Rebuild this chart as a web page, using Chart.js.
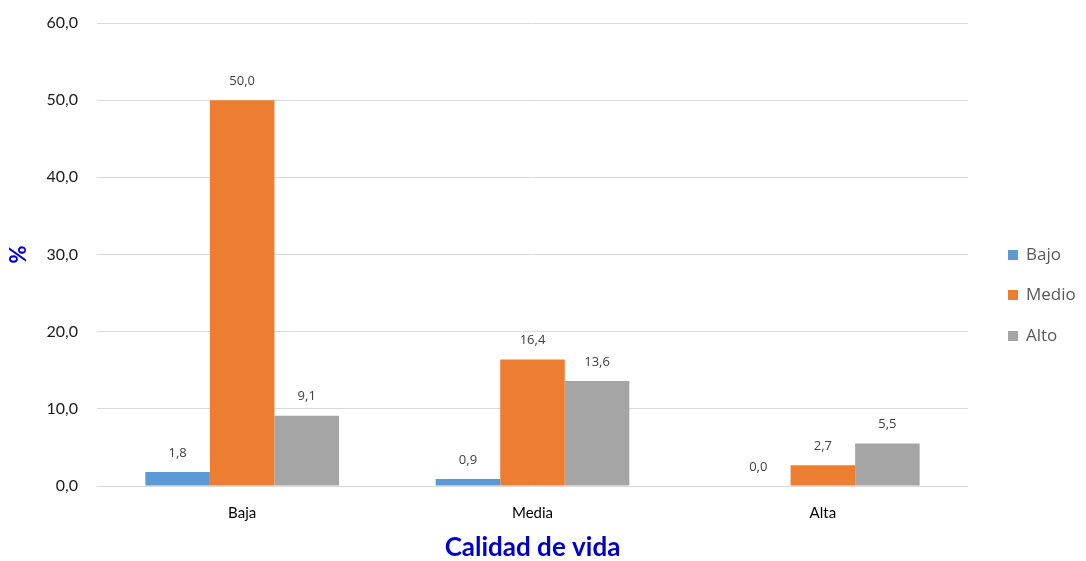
<!DOCTYPE html>
<html>
<head>
<meta charset="utf-8">
<style>
html,body{margin:0;padding:0;background:#fff;}
#wrap{width:1086px;height:561px;position:relative;}
</style>
<script src="https://cdn.jsdelivr.net/npm/chart.js@4.4.1/dist/chart.umd.min.js"></script>
</head>
<body>
<div id="wrap"><canvas id="c" width="1086" height="561"></canvas></div>
<script>
const categories = ["Baja", "Media", "Alta"];
const seriesNames = ["Bajo", "Medio", "Alto"];
const bajo = [1.8, 0.9, 0.0];
const medio = [50.0, 16.4, 2.7];
const alto = [9.1, 13.6, 5.5];
const colors = ["#5B9BD5", "#ED7D31", "#A5A5A5"];
const yTicks = [0, 10, 20, 30, 40, 50, 60];

const fmt = v => v.toFixed(1).replace('.', ',');

const dataLabels = {
  id: 'dataLabels',
  afterDatasetsDraw(chart) {
    const ctx = chart.ctx;
    ctx.save();
    ctx.font = '13px "Open Sans", sans-serif';
    ctx.fillStyle = '#404040';
    ctx.textAlign = 'center';
    ctx.textBaseline = 'middle';
    chart.data.datasets.forEach((ds, i) => {
      const meta = chart.getDatasetMeta(i);
      meta.data.forEach((bar, j) => {
        ctx.fillText(fmt(ds.data[j]), bar.x, bar.y - 19);
      });
    });
    ctx.restore();
  }
};

const customLegend = {
  id: 'customLegend',
  afterDraw(chart) {
    const ctx = chart.ctx;
    ctx.save();
    ctx.font = '17px "Open Sans", sans-serif';
    ctx.textBaseline = 'middle';
    ctx.textAlign = 'left';
    const ys = [255, 295, 336];
    chart.data.datasets.forEach((ds, i) => {
      ctx.fillStyle = ds.backgroundColor;
      ctx.fillRect(1008, ys[i] - 5, 10, 10);
      ctx.fillStyle = '#595959';
      ctx.fillText(ds.label, 1026, ys[i]);
    });
    ctx.restore();
  }
};

new Chart(document.getElementById('c'), {
  type: 'bar',
  data: {
    labels: categories,
    datasets: [
      { label: seriesNames[0], data: bajo, backgroundColor: colors[0] },
      { label: seriesNames[1], data: medio, backgroundColor: colors[1] },
      { label: seriesNames[2], data: alto, backgroundColor: colors[2] }
    ]
  },
  options: {
    responsive: false,
    animation: false,
    devicePixelRatio: 1,
    layout: { padding: { top: 23, right: 118, left: 0, bottom: 0 } },
    datasets: { bar: { categoryPercentage: 0.667, barPercentage: 1.0 } },
    plugins: {
      legend: { display: false },
      tooltip: { enabled: false }
    },
    scales: {
      x: {
        grid: { display: false },
        border: { display: false },
        ticks: { font: { family: 'Lato, sans-serif', size: 15 }, color: '#000000', padding: 10 },
        title: { display: true, text: 'Calidad de vida', color: '#0000CC', font: { family: 'Lato, sans-serif', size: 26, weight: 'bold', lineHeight: 1 }, padding: { top: 0, bottom: 0 } },
        afterFit(s) { s.height = 75; s.paddingLeft = 0; s.paddingRight = 0; }
      },
      y: {
        min: 0, max: 60,
        afterBuildTicks(s) { s.ticks = yTicks.map(v => ({ value: v })); },
        grid: { color: '#D9D9D9', lineWidth: 1, drawTicks: false },
        border: { display: false },
        ticks: { font: { family: 'Lato, sans-serif', size: 16 }, color: '#1a1a1a', padding: 19, callback: v => fmt(v) },
        title: { display: true, text: '%', color: '#0000CC', font: { family: 'Lato, sans-serif', size: 22, weight: 'bold' }, padding: { top: 6, bottom: 0 } },
        afterFit(s) { s.width = 97; s.paddingTop = 0; s.paddingBottom = 0; }
      }
    }
  },
  plugins: [dataLabels, customLegend]
});
</script>
</body>
</html>
